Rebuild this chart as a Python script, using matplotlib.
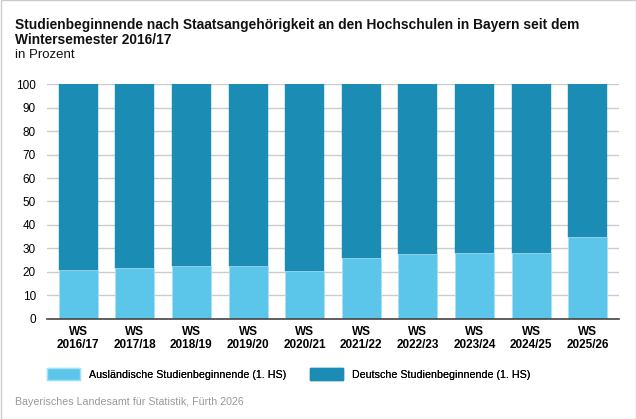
import matplotlib.pyplot as plt
from matplotlib.patches import Patch, Rectangle

semester = ['WS\n2016/17', 'WS\n2017/18', 'WS\n2018/19', 'WS\n2019/20', 'WS\n2020/21',
            'WS\n2021/22', 'WS\n2022/23', 'WS\n2023/24', 'WS\n2024/25', 'WS\n2025/26']
auslaendisch = [20.9, 21.5, 22.6, 22.5, 20.4, 26.1, 27.7, 28.2, 28.1, 34.7]
deutsch = [100 - v for v in auslaendisch]

light = '#5BC6EA'
dark = '#1B8DB5'
plt.rcParams['font.family'] = ['Liberation Sans', 'DejaVu Sans']

fig = plt.figure(figsize=(6.36, 4.19), dpi=100)
ax = fig.add_axes([47 / 636, 1 - 318.7 / 419, 572 / 636, (318.7 - 84.3) / 419])

x = range(len(semester))
ax.bar(x, auslaendisch, width=0.69, color=light, edgecolor='#A9E0F3', linewidth=0.6, zorder=3)
ax.bar(x, deutsch, width=0.69, bottom=auslaendisch, color=dark, edgecolor=dark, linewidth=0.3, zorder=3)

ax.set_xlim(-0.55, 9.55)
ax.set_ylim(0, 100)
ax.set_yticks(range(0, 101, 10))
ax.yaxis.grid(True, color='#CCCCCC', linewidth=1.0, zorder=0)
ax.tick_params(axis='y', length=0, labelsize=8.5, pad=8)
ax.tick_params(axis='x', length=0, pad=5)
ax.set_xticks(list(x))
ax.set_xticklabels(semester, fontsize=8.5, fontweight='bold', linespacing=1.1)
for s in ['top', 'right', 'left']:
    ax.spines[s].set_visible(False)
ax.spines['bottom'].set_color('#444444')
ax.spines['bottom'].set_linewidth(1.2)
ax.spines['bottom'].set_zorder(4)

fig.text(15 / 636, 1 - 25 / 419, 'Studienbeginnende nach Staatsangehörigkeit an den Hochschulen in Bayern seit dem',
         fontsize=9.9, fontweight='bold', va='center', color='#111111')
fig.text(15 / 636, 1 - 40 / 419, 'Wintersemester 2016/17',
         fontsize=9.9, fontweight='bold', va='center', color='#111111')
fig.text(15 / 636, 1 - 55 / 419, 'in Prozent', fontsize=9.5, va='center', color='#111111')

legend_items = [(light, '#A9E0F3', 'Ausländische Studienbeginnende (1. HS)', 47),
                (dark, dark, 'Deutsche Studienbeginnende (1. HS)', 310)]
for face, edge, label, xpos in legend_items:
    leg = fig.legend(handles=[Patch(facecolor=face, edgecolor=edge, label=label)],
                     loc='center left', bbox_to_anchor=(xpos / 636, 1 - 374 / 419),
                     frameon=False, fontsize=7.7, borderpad=0, borderaxespad=0,
                     handlelength=3.1, handleheight=1.3, handletextpad=0.8)
    fig.add_artist(leg)

fig.text(15 / 636, 1 - 402 / 419, 'Bayerisches Landesamt für Statistik, Fürth 2026', fontsize=7.7,
         color='#999999', va='center')

fig.patches.append(Rectangle((0.5 / 636, 0.5 / 419), 635 / 636, 418 / 419, transform=fig.transFigure,
                             fill=False, edgecolor='#CCCCCC', linewidth=1.0))

fig.savefig('out.png', dpi=100)
